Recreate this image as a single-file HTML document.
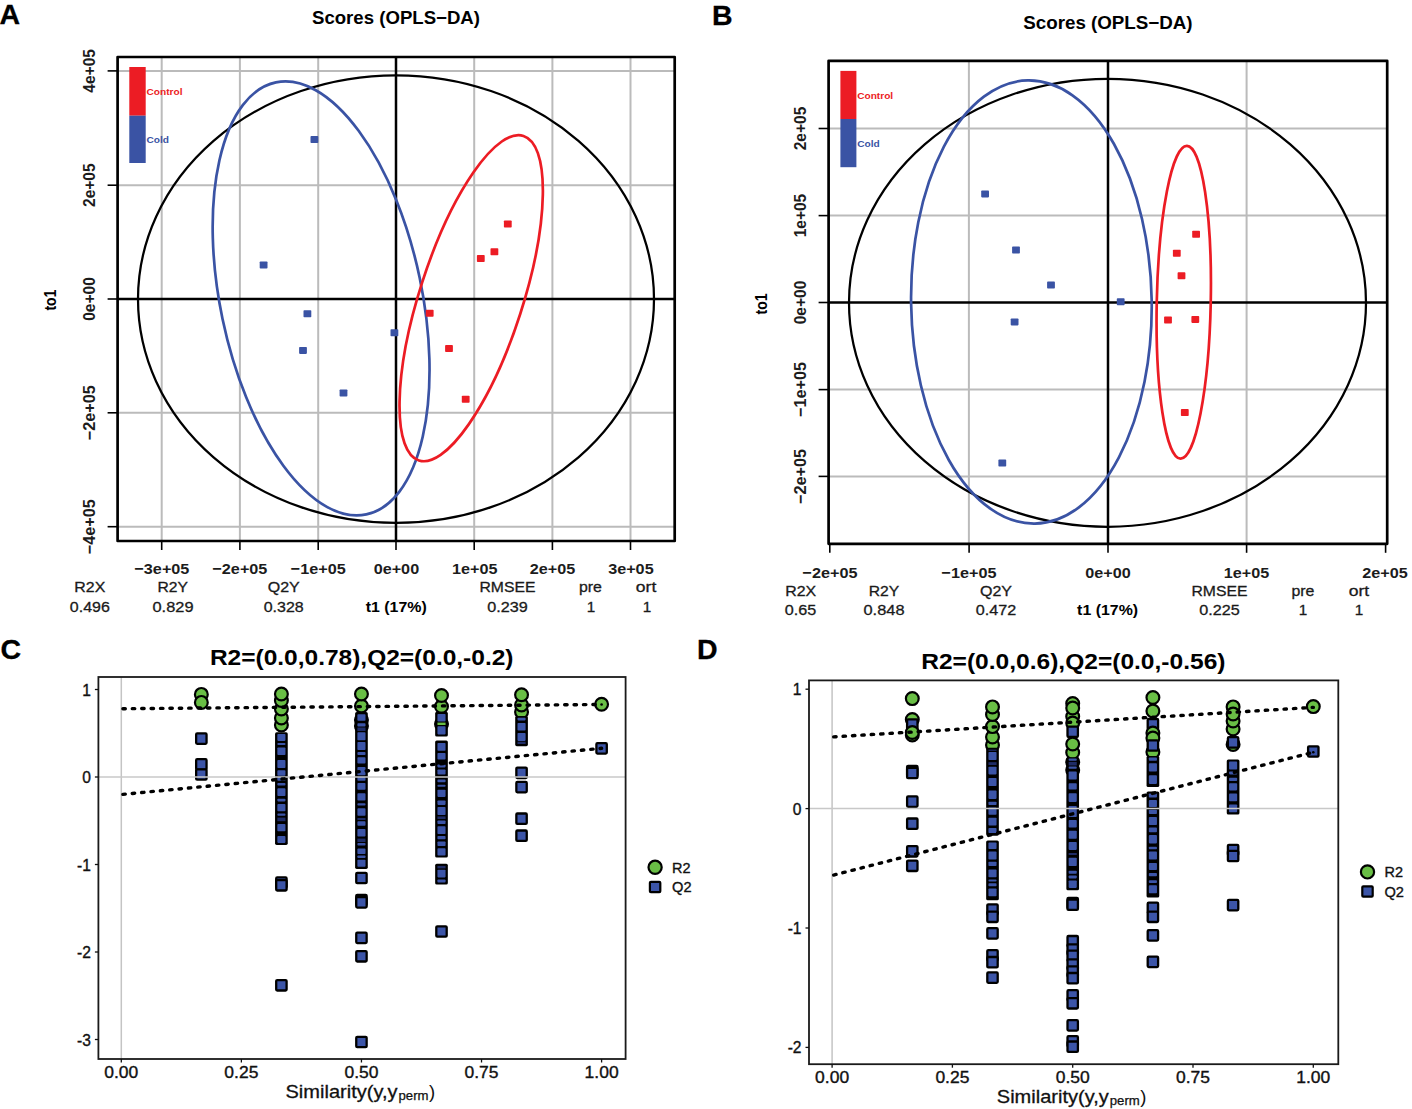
<!DOCTYPE html>
<html><head><meta charset="utf-8"><style>html,body{margin:0;padding:0;background:#fff;width:1412px;height:1109px;overflow:hidden}svg{display:block}</style></head><body>
<svg width="1412" height="1109" viewBox="0 0 1412 1109" font-family='"Liberation Sans", sans-serif'>
<rect x="0" y="0" width="1412" height="1109" fill="#fff"/>
<text x="-0.5" y="23.91" font-size="28.5" font-weight="bold" fill="#000" stroke="#000" stroke-width="0.3">A</text>
<text x="712" y="25.11" font-size="28.5" font-weight="bold" fill="#000" stroke="#000" stroke-width="0.3">B</text>
<text x="0.5" y="659.21" font-size="28.5" font-weight="bold" fill="#000" stroke="#000" stroke-width="0.3">C</text>
<text x="697" y="659.21" font-size="28.5" font-weight="bold" fill="#000" stroke="#000" stroke-width="0.3">D</text>
<line x1="161.70" y1="57.00" x2="161.70" y2="541.00" stroke="#BBBBBB" stroke-width="2.0"/>
<line x1="239.90" y1="57.00" x2="239.90" y2="541.00" stroke="#BBBBBB" stroke-width="2.0"/>
<line x1="318.20" y1="57.00" x2="318.20" y2="541.00" stroke="#BBBBBB" stroke-width="2.0"/>
<line x1="474.20" y1="57.00" x2="474.20" y2="541.00" stroke="#BBBBBB" stroke-width="2.0"/>
<line x1="552.40" y1="57.00" x2="552.40" y2="541.00" stroke="#BBBBBB" stroke-width="2.0"/>
<line x1="630.50" y1="57.00" x2="630.50" y2="541.00" stroke="#BBBBBB" stroke-width="2.0"/>
<line x1="117.60" y1="70.90" x2="674.70" y2="70.90" stroke="#BBBBBB" stroke-width="2.0"/>
<line x1="117.60" y1="185.20" x2="674.70" y2="185.20" stroke="#BBBBBB" stroke-width="2.0"/>
<line x1="117.60" y1="412.80" x2="674.70" y2="412.80" stroke="#BBBBBB" stroke-width="2.0"/>
<line x1="117.60" y1="526.70" x2="674.70" y2="526.70" stroke="#BBBBBB" stroke-width="2.0"/>
<line x1="396.00" y1="57.00" x2="396.00" y2="541.00" stroke="#000" stroke-width="2.5"/>
<line x1="117.60" y1="299.00" x2="674.70" y2="299.00" stroke="#000" stroke-width="2.5"/>
<ellipse cx="396.00" cy="299.10" rx="258.00" ry="223.80" transform="rotate(0 396.00 299.10)" fill="none" stroke="#000" stroke-width="2.25"/>
<ellipse cx="321.10" cy="298.40" rx="220.70" ry="100.70" transform="rotate(78.18 321.10 298.40)" fill="none" stroke="#3A53A4" stroke-width="2.7"/>
<ellipse cx="471.20" cy="298.20" rx="170.50" ry="51.50" transform="rotate(-72.14 471.20 298.20)" fill="none" stroke="#EC1C24" stroke-width="2.7"/>
<rect x="310.50" y="136.10" width="7.80" height="7.00" fill="#3A53A4" stroke="none" stroke-width="0" rx="0.8"/>
<rect x="259.70" y="261.50" width="7.80" height="7.00" fill="#3A53A4" stroke="none" stroke-width="0" rx="0.8"/>
<rect x="303.50" y="310.30" width="7.80" height="7.00" fill="#3A53A4" stroke="none" stroke-width="0" rx="0.8"/>
<rect x="299.10" y="346.90" width="7.80" height="7.00" fill="#3A53A4" stroke="none" stroke-width="0" rx="0.8"/>
<rect x="339.60" y="389.50" width="7.80" height="7.00" fill="#3A53A4" stroke="none" stroke-width="0" rx="0.8"/>
<rect x="390.50" y="329.30" width="7.80" height="7.00" fill="#3A53A4" stroke="none" stroke-width="0" rx="0.8"/>
<rect x="503.90" y="220.50" width="7.80" height="7.00" fill="#EC1C24" stroke="none" stroke-width="0" rx="0.8"/>
<rect x="490.50" y="248.20" width="7.80" height="7.00" fill="#EC1C24" stroke="none" stroke-width="0" rx="0.8"/>
<rect x="476.90" y="255.00" width="7.80" height="7.00" fill="#EC1C24" stroke="none" stroke-width="0" rx="0.8"/>
<rect x="425.80" y="309.70" width="7.80" height="7.00" fill="#EC1C24" stroke="none" stroke-width="0" rx="0.8"/>
<rect x="445.10" y="345.10" width="7.80" height="7.00" fill="#EC1C24" stroke="none" stroke-width="0" rx="0.8"/>
<rect x="461.80" y="395.80" width="7.80" height="7.00" fill="#EC1C24" stroke="none" stroke-width="0" rx="0.8"/>
<rect x="129.30" y="67.00" width="16.40" height="48.70" fill="#EC1C24" stroke="none" stroke-width="0"/>
<rect x="129.30" y="115.70" width="16.40" height="47.30" fill="#3A53A4" stroke="none" stroke-width="0"/>
<text x="146.50" y="94.92" font-size="9.5" font-weight="bold" text-anchor="start" fill="#EC1C24" textLength="36" lengthAdjust="spacingAndGlyphs">Control</text>
<text x="146.50" y="143.02" font-size="9.5" font-weight="bold" text-anchor="start" fill="#3A53A4" textLength="22.5" lengthAdjust="spacingAndGlyphs">Cold</text>
<rect x="117.60" y="57.00" width="557.10" height="484.00" fill="none" stroke="#000" stroke-width="2.7" stroke-linejoin="round"/>
<line x1="107.60" y1="70.90" x2="117.60" y2="70.90" stroke="#000" stroke-width="1.6"/>
<line x1="107.60" y1="185.20" x2="117.60" y2="185.20" stroke="#000" stroke-width="1.6"/>
<line x1="107.60" y1="299.00" x2="117.60" y2="299.00" stroke="#000" stroke-width="1.6"/>
<line x1="107.60" y1="412.80" x2="117.60" y2="412.80" stroke="#000" stroke-width="1.6"/>
<line x1="107.60" y1="526.70" x2="117.60" y2="526.70" stroke="#000" stroke-width="1.6"/>
<line x1="161.70" y1="541.00" x2="161.70" y2="550.00" stroke="#000" stroke-width="1.6"/>
<line x1="239.90" y1="541.00" x2="239.90" y2="550.00" stroke="#000" stroke-width="1.6"/>
<line x1="318.20" y1="541.00" x2="318.20" y2="550.00" stroke="#000" stroke-width="1.6"/>
<line x1="396.00" y1="541.00" x2="396.00" y2="550.00" stroke="#000" stroke-width="1.6"/>
<line x1="474.20" y1="541.00" x2="474.20" y2="550.00" stroke="#000" stroke-width="1.6"/>
<line x1="552.40" y1="541.00" x2="552.40" y2="550.00" stroke="#000" stroke-width="1.6"/>
<line x1="630.50" y1="541.00" x2="630.50" y2="550.00" stroke="#000" stroke-width="1.6"/>
<g transform="translate(89.30,70.90) scale(1.08,1) rotate(-90)"><text x="0" y="5.26" font-size="15.3" font-weight="bold" text-anchor="middle" fill="#1c1c1c" textLength="43.5" lengthAdjust="spacingAndGlyphs">4e+05</text></g>
<g transform="translate(89.30,185.20) scale(1.08,1) rotate(-90)"><text x="0" y="5.26" font-size="15.3" font-weight="bold" text-anchor="middle" fill="#1c1c1c" textLength="43.5" lengthAdjust="spacingAndGlyphs">2e+05</text></g>
<g transform="translate(89.30,299.00) scale(1.08,1) rotate(-90)"><text x="0" y="5.26" font-size="15.3" font-weight="bold" text-anchor="middle" fill="#1c1c1c" textLength="43.5" lengthAdjust="spacingAndGlyphs">0e+00</text></g>
<g transform="translate(89.30,412.80) scale(1.08,1) rotate(-90)"><text x="0" y="5.26" font-size="15.3" font-weight="bold" text-anchor="middle" fill="#1c1c1c" textLength="55" lengthAdjust="spacingAndGlyphs">−2e+05</text></g>
<g transform="translate(89.30,526.70) scale(1.08,1) rotate(-90)"><text x="0" y="5.26" font-size="15.3" font-weight="bold" text-anchor="middle" fill="#1c1c1c" textLength="55" lengthAdjust="spacingAndGlyphs">−4e+05</text></g>
<g transform="translate(50.50,300.10) scale(1.1,1) rotate(-90)"><text x="0" y="4.99" font-size="14.5" font-weight="bold" text-anchor="middle" fill="#000" textLength="21" lengthAdjust="spacingAndGlyphs">to1</text></g>
<text x="161.90" y="574.26" font-size="15.3" font-weight="bold" text-anchor="middle" fill="#1c1c1c" textLength="55" lengthAdjust="spacingAndGlyphs">−3e+05</text>
<text x="239.90" y="574.26" font-size="15.3" font-weight="bold" text-anchor="middle" fill="#1c1c1c" textLength="55" lengthAdjust="spacingAndGlyphs">−2e+05</text>
<text x="318.20" y="574.26" font-size="15.3" font-weight="bold" text-anchor="middle" fill="#1c1c1c" textLength="55" lengthAdjust="spacingAndGlyphs">−1e+05</text>
<text x="396.40" y="574.26" font-size="15.3" font-weight="bold" text-anchor="middle" fill="#1c1c1c" textLength="45.5" lengthAdjust="spacingAndGlyphs">0e+00</text>
<text x="474.80" y="574.26" font-size="15.3" font-weight="bold" text-anchor="middle" fill="#1c1c1c" textLength="45.5" lengthAdjust="spacingAndGlyphs">1e+05</text>
<text x="552.60" y="574.26" font-size="15.3" font-weight="bold" text-anchor="middle" fill="#1c1c1c" textLength="45.5" lengthAdjust="spacingAndGlyphs">2e+05</text>
<text x="630.90" y="574.26" font-size="15.3" font-weight="bold" text-anchor="middle" fill="#1c1c1c" textLength="45.5" lengthAdjust="spacingAndGlyphs">3e+05</text>
<text x="396.00" y="24.29" font-size="18" font-weight="bold" text-anchor="middle" fill="#000" textLength="168.0" lengthAdjust="spacingAndGlyphs">Scores (OPLS−DA)</text>
<text x="89.80" y="592.16" font-size="15.3" font-weight="normal" text-anchor="middle" fill="#1a1a1a" stroke="#1a1a1a" stroke-width="0.3" textLength="31" lengthAdjust="spacingAndGlyphs">R2X</text>
<text x="172.80" y="592.16" font-size="15.3" font-weight="normal" text-anchor="middle" fill="#1a1a1a" stroke="#1a1a1a" stroke-width="0.3" textLength="30.5" lengthAdjust="spacingAndGlyphs">R2Y</text>
<text x="283.70" y="592.16" font-size="15.3" font-weight="normal" text-anchor="middle" fill="#1a1a1a" stroke="#1a1a1a" stroke-width="0.3" textLength="32" lengthAdjust="spacingAndGlyphs">Q2Y</text>
<text x="507.50" y="592.16" font-size="15.3" font-weight="normal" text-anchor="middle" fill="#1a1a1a" stroke="#1a1a1a" stroke-width="0.3" textLength="56" lengthAdjust="spacingAndGlyphs">RMSEE</text>
<text x="590.40" y="592.16" font-size="15.3" font-weight="normal" text-anchor="middle" fill="#1a1a1a" stroke="#1a1a1a" stroke-width="0.3" textLength="23" lengthAdjust="spacingAndGlyphs">pre</text>
<text x="646.10" y="592.16" font-size="15.3" font-weight="normal" text-anchor="middle" fill="#1a1a1a" stroke="#1a1a1a" stroke-width="0.3" textLength="20.5" lengthAdjust="spacingAndGlyphs">ort</text>
<text x="89.80" y="611.86" font-size="15.3" font-weight="normal" text-anchor="middle" fill="#1a1a1a" stroke="#1a1a1a" stroke-width="0.3" textLength="40" lengthAdjust="spacingAndGlyphs">0.496</text>
<text x="173.00" y="611.86" font-size="15.3" font-weight="normal" text-anchor="middle" fill="#1a1a1a" stroke="#1a1a1a" stroke-width="0.3" textLength="41" lengthAdjust="spacingAndGlyphs">0.829</text>
<text x="283.70" y="611.86" font-size="15.3" font-weight="normal" text-anchor="middle" fill="#1a1a1a" stroke="#1a1a1a" stroke-width="0.3" textLength="40" lengthAdjust="spacingAndGlyphs">0.328</text>
<text x="396.20" y="611.66" font-size="15.3" font-weight="bold" text-anchor="middle" fill="#000" textLength="61" lengthAdjust="spacingAndGlyphs">t1 (17%)</text>
<text x="507.60" y="611.86" font-size="15.3" font-weight="normal" text-anchor="middle" fill="#1a1a1a" stroke="#1a1a1a" stroke-width="0.3" textLength="40.5" lengthAdjust="spacingAndGlyphs">0.239</text>
<text x="591.10" y="611.86" font-size="15.3" font-weight="normal" text-anchor="middle" fill="#1a1a1a" stroke="#1a1a1a" stroke-width="0.3" textLength="8.5" lengthAdjust="spacingAndGlyphs">1</text>
<text x="646.90" y="611.86" font-size="15.3" font-weight="normal" text-anchor="middle" fill="#1a1a1a" stroke="#1a1a1a" stroke-width="0.3" textLength="8.5" lengthAdjust="spacingAndGlyphs">1</text>
<line x1="968.90" y1="60.80" x2="968.90" y2="543.80" stroke="#BBBBBB" stroke-width="2.0"/>
<line x1="1246.60" y1="60.80" x2="1246.60" y2="543.80" stroke="#BBBBBB" stroke-width="2.0"/>
<line x1="828.60" y1="128.50" x2="1387.20" y2="128.50" stroke="#BBBBBB" stroke-width="2.0"/>
<line x1="828.60" y1="215.60" x2="1387.20" y2="215.60" stroke="#BBBBBB" stroke-width="2.0"/>
<line x1="828.60" y1="389.60" x2="1387.20" y2="389.60" stroke="#BBBBBB" stroke-width="2.0"/>
<line x1="828.60" y1="476.40" x2="1387.20" y2="476.40" stroke="#BBBBBB" stroke-width="2.0"/>
<line x1="1108.00" y1="60.80" x2="1108.00" y2="543.80" stroke="#000" stroke-width="2.5"/>
<line x1="828.60" y1="302.50" x2="1387.20" y2="302.50" stroke="#000" stroke-width="2.5"/>
<ellipse cx="1107.50" cy="302.75" rx="258.50" ry="224.00" transform="rotate(0 1107.50 302.75)" fill="none" stroke="#000" stroke-width="2.25"/>
<ellipse cx="1031.40" cy="302.00" rx="221.60" ry="120.30" transform="rotate(89.1 1031.40 302.00)" fill="none" stroke="#3A53A4" stroke-width="2.7"/>
<ellipse cx="1183.75" cy="302.25" rx="156.40" ry="27.00" transform="rotate(-88.83 1183.75 302.25)" fill="none" stroke="#EC1C24" stroke-width="2.7"/>
<rect x="981.20" y="190.40" width="7.80" height="7.00" fill="#3A53A4" stroke="none" stroke-width="0" rx="0.8"/>
<rect x="1012.10" y="246.50" width="7.80" height="7.00" fill="#3A53A4" stroke="none" stroke-width="0" rx="0.8"/>
<rect x="1047.10" y="281.60" width="7.80" height="7.00" fill="#3A53A4" stroke="none" stroke-width="0" rx="0.8"/>
<rect x="1010.70" y="318.40" width="7.80" height="7.00" fill="#3A53A4" stroke="none" stroke-width="0" rx="0.8"/>
<rect x="998.40" y="459.60" width="7.80" height="7.00" fill="#3A53A4" stroke="none" stroke-width="0" rx="0.8"/>
<rect x="1116.80" y="298.30" width="7.80" height="7.00" fill="#3A53A4" stroke="none" stroke-width="0" rx="0.8"/>
<rect x="1192.20" y="230.80" width="7.80" height="7.00" fill="#EC1C24" stroke="none" stroke-width="0" rx="0.8"/>
<rect x="1172.90" y="249.80" width="7.80" height="7.00" fill="#EC1C24" stroke="none" stroke-width="0" rx="0.8"/>
<rect x="1177.60" y="272.30" width="7.80" height="7.00" fill="#EC1C24" stroke="none" stroke-width="0" rx="0.8"/>
<rect x="1164.10" y="316.50" width="7.80" height="7.00" fill="#EC1C24" stroke="none" stroke-width="0" rx="0.8"/>
<rect x="1191.40" y="315.90" width="7.80" height="7.00" fill="#EC1C24" stroke="none" stroke-width="0" rx="0.8"/>
<rect x="1180.90" y="409.10" width="7.80" height="7.00" fill="#EC1C24" stroke="none" stroke-width="0" rx="0.8"/>
<rect x="840.40" y="70.90" width="16.00" height="48.10" fill="#EC1C24" stroke="none" stroke-width="0"/>
<rect x="840.40" y="119.00" width="16.00" height="48.20" fill="#3A53A4" stroke="none" stroke-width="0"/>
<text x="857.20" y="98.52" font-size="9.5" font-weight="bold" text-anchor="start" fill="#EC1C24" textLength="36" lengthAdjust="spacingAndGlyphs">Control</text>
<text x="857.20" y="146.77" font-size="9.5" font-weight="bold" text-anchor="start" fill="#3A53A4" textLength="22.5" lengthAdjust="spacingAndGlyphs">Cold</text>
<rect x="828.60" y="60.80" width="558.60" height="483.00" fill="none" stroke="#000" stroke-width="2.7" stroke-linejoin="round"/>
<line x1="818.60" y1="128.50" x2="828.60" y2="128.50" stroke="#000" stroke-width="1.6"/>
<line x1="818.60" y1="215.60" x2="828.60" y2="215.60" stroke="#000" stroke-width="1.6"/>
<line x1="818.60" y1="302.50" x2="828.60" y2="302.50" stroke="#000" stroke-width="1.6"/>
<line x1="818.60" y1="389.60" x2="828.60" y2="389.60" stroke="#000" stroke-width="1.6"/>
<line x1="818.60" y1="476.40" x2="828.60" y2="476.40" stroke="#000" stroke-width="1.6"/>
<line x1="829.80" y1="543.80" x2="829.80" y2="552.80" stroke="#000" stroke-width="1.6"/>
<line x1="969.10" y1="543.80" x2="969.10" y2="552.80" stroke="#000" stroke-width="1.6"/>
<line x1="1108.00" y1="543.80" x2="1108.00" y2="552.80" stroke="#000" stroke-width="1.6"/>
<line x1="1246.60" y1="543.80" x2="1246.60" y2="552.80" stroke="#000" stroke-width="1.6"/>
<line x1="1385.60" y1="543.80" x2="1385.60" y2="552.80" stroke="#000" stroke-width="1.6"/>
<g transform="translate(800.00,128.50) scale(1.08,1) rotate(-90)"><text x="0" y="5.26" font-size="15.3" font-weight="bold" text-anchor="middle" fill="#1c1c1c" textLength="43.5" lengthAdjust="spacingAndGlyphs">2e+05</text></g>
<g transform="translate(800.00,215.60) scale(1.08,1) rotate(-90)"><text x="0" y="5.26" font-size="15.3" font-weight="bold" text-anchor="middle" fill="#1c1c1c" textLength="43.5" lengthAdjust="spacingAndGlyphs">1e+05</text></g>
<g transform="translate(800.00,302.50) scale(1.08,1) rotate(-90)"><text x="0" y="5.26" font-size="15.3" font-weight="bold" text-anchor="middle" fill="#1c1c1c" textLength="43.5" lengthAdjust="spacingAndGlyphs">0e+00</text></g>
<g transform="translate(800.00,389.60) scale(1.08,1) rotate(-90)"><text x="0" y="5.26" font-size="15.3" font-weight="bold" text-anchor="middle" fill="#1c1c1c" textLength="55" lengthAdjust="spacingAndGlyphs">−1e+05</text></g>
<g transform="translate(800.00,476.40) scale(1.08,1) rotate(-90)"><text x="0" y="5.26" font-size="15.3" font-weight="bold" text-anchor="middle" fill="#1c1c1c" textLength="55" lengthAdjust="spacingAndGlyphs">−2e+05</text></g>
<g transform="translate(761.20,303.90) scale(1.1,1) rotate(-90)"><text x="0" y="4.99" font-size="14.5" font-weight="bold" text-anchor="middle" fill="#000" textLength="21" lengthAdjust="spacingAndGlyphs">to1</text></g>
<text x="830.00" y="577.76" font-size="15.3" font-weight="bold" text-anchor="middle" fill="#1c1c1c" textLength="55" lengthAdjust="spacingAndGlyphs">−2e+05</text>
<text x="969.10" y="577.76" font-size="15.3" font-weight="bold" text-anchor="middle" fill="#1c1c1c" textLength="55" lengthAdjust="spacingAndGlyphs">−1e+05</text>
<text x="1108.00" y="577.76" font-size="15.3" font-weight="bold" text-anchor="middle" fill="#1c1c1c" textLength="45.5" lengthAdjust="spacingAndGlyphs">0e+00</text>
<text x="1246.50" y="577.76" font-size="15.3" font-weight="bold" text-anchor="middle" fill="#1c1c1c" textLength="45.5" lengthAdjust="spacingAndGlyphs">1e+05</text>
<text x="1385.00" y="577.76" font-size="15.3" font-weight="bold" text-anchor="middle" fill="#1c1c1c" textLength="45.5" lengthAdjust="spacingAndGlyphs">2e+05</text>
<text x="1107.95" y="29.09" font-size="18" font-weight="bold" text-anchor="middle" fill="#000" textLength="169.29999999999995" lengthAdjust="spacingAndGlyphs">Scores (OPLS−DA)</text>
<text x="800.70" y="595.96" font-size="15.3" font-weight="normal" text-anchor="middle" fill="#1a1a1a" stroke="#1a1a1a" stroke-width="0.3" textLength="31" lengthAdjust="spacingAndGlyphs">R2X</text>
<text x="884.00" y="595.96" font-size="15.3" font-weight="normal" text-anchor="middle" fill="#1a1a1a" stroke="#1a1a1a" stroke-width="0.3" textLength="30.5" lengthAdjust="spacingAndGlyphs">R2Y</text>
<text x="996.00" y="595.96" font-size="15.3" font-weight="normal" text-anchor="middle" fill="#1a1a1a" stroke="#1a1a1a" stroke-width="0.3" textLength="32" lengthAdjust="spacingAndGlyphs">Q2Y</text>
<text x="1219.50" y="595.96" font-size="15.3" font-weight="normal" text-anchor="middle" fill="#1a1a1a" stroke="#1a1a1a" stroke-width="0.3" textLength="56" lengthAdjust="spacingAndGlyphs">RMSEE</text>
<text x="1302.90" y="595.96" font-size="15.3" font-weight="normal" text-anchor="middle" fill="#1a1a1a" stroke="#1a1a1a" stroke-width="0.3" textLength="23" lengthAdjust="spacingAndGlyphs">pre</text>
<text x="1359.00" y="595.96" font-size="15.3" font-weight="normal" text-anchor="middle" fill="#1a1a1a" stroke="#1a1a1a" stroke-width="0.3" textLength="20.5" lengthAdjust="spacingAndGlyphs">ort</text>
<text x="800.50" y="615.36" font-size="15.3" font-weight="normal" text-anchor="middle" fill="#1a1a1a" stroke="#1a1a1a" stroke-width="0.3" textLength="31.5" lengthAdjust="spacingAndGlyphs">0.65</text>
<text x="884.00" y="615.36" font-size="15.3" font-weight="normal" text-anchor="middle" fill="#1a1a1a" stroke="#1a1a1a" stroke-width="0.3" textLength="41" lengthAdjust="spacingAndGlyphs">0.848</text>
<text x="996.00" y="615.36" font-size="15.3" font-weight="normal" text-anchor="middle" fill="#1a1a1a" stroke="#1a1a1a" stroke-width="0.3" textLength="40.5" lengthAdjust="spacingAndGlyphs">0.472</text>
<text x="1107.60" y="615.26" font-size="15.3" font-weight="bold" text-anchor="middle" fill="#000" textLength="61" lengthAdjust="spacingAndGlyphs">t1 (17%)</text>
<text x="1219.50" y="615.36" font-size="15.3" font-weight="normal" text-anchor="middle" fill="#1a1a1a" stroke="#1a1a1a" stroke-width="0.3" textLength="40.5" lengthAdjust="spacingAndGlyphs">0.225</text>
<text x="1302.90" y="615.36" font-size="15.3" font-weight="normal" text-anchor="middle" fill="#1a1a1a" stroke="#1a1a1a" stroke-width="0.3" textLength="8.5" lengthAdjust="spacingAndGlyphs">1</text>
<text x="1359.00" y="615.36" font-size="15.3" font-weight="normal" text-anchor="middle" fill="#1a1a1a" stroke="#1a1a1a" stroke-width="0.3" textLength="8.5" lengthAdjust="spacingAndGlyphs">1</text>
<line x1="121.30" y1="677.00" x2="121.30" y2="1059.00" stroke="#C4C4C4" stroke-width="1.5"/>
<circle cx="201.35" cy="694.40" r="6.4" fill="#69BE45" stroke="#000" stroke-width="2.2"/>
<circle cx="201.35" cy="702.40" r="6.4" fill="#69BE45" stroke="#000" stroke-width="2.2"/>
<rect x="196.15" y="733.40" width="10.40" height="10.40" fill="#3C55A8" stroke="#000" stroke-width="2.3" rx="1"/>
<rect x="196.15" y="759.20" width="10.40" height="10.40" fill="#3C55A8" stroke="#000" stroke-width="2.3" rx="1"/>
<rect x="196.15" y="769.30" width="10.40" height="10.40" fill="#3C55A8" stroke="#000" stroke-width="2.3" rx="1"/>
<circle cx="281.40" cy="725.00" r="6.4" fill="#69BE45" stroke="#000" stroke-width="2.2"/>
<circle cx="281.40" cy="718.00" r="6.4" fill="#69BE45" stroke="#000" stroke-width="2.2"/>
<circle cx="281.40" cy="709.00" r="6.4" fill="#69BE45" stroke="#000" stroke-width="2.2"/>
<circle cx="281.40" cy="700.50" r="6.4" fill="#69BE45" stroke="#000" stroke-width="2.2"/>
<circle cx="281.40" cy="694.00" r="6.4" fill="#69BE45" stroke="#000" stroke-width="2.2"/>
<rect x="275.05" y="732.30" width="12.70" height="112.60" fill="#000" stroke="none" stroke-width="0" rx="1.6"/>
<rect x="277.35" y="733.90" width="8.10" height="7.00" fill="#3C55A8" stroke="none" stroke-width="0" rx="0.8"/>
<rect x="277.35" y="743.00" width="8.10" height="2.00" fill="#3C55A8" stroke="none" stroke-width="0" rx="0.8"/>
<rect x="277.35" y="747.40" width="8.10" height="7.60" fill="#3C55A8" stroke="none" stroke-width="0" rx="0.8"/>
<rect x="277.35" y="759.90" width="8.10" height="8.10" fill="#3C55A8" stroke="none" stroke-width="0" rx="0.8"/>
<rect x="277.35" y="770.30" width="8.10" height="5.40" fill="#3C55A8" stroke="none" stroke-width="0" rx="0.8"/>
<rect x="277.35" y="777.00" width="8.10" height="3.70" fill="#3C55A8" stroke="none" stroke-width="0" rx="0.8"/>
<rect x="277.35" y="783.00" width="8.10" height="2.60" fill="#3C55A8" stroke="none" stroke-width="0" rx="0.8"/>
<rect x="277.35" y="788.30" width="8.10" height="7.70" fill="#3C55A8" stroke="none" stroke-width="0" rx="0.8"/>
<rect x="277.35" y="798.70" width="8.10" height="2.70" fill="#3C55A8" stroke="none" stroke-width="0" rx="0.8"/>
<rect x="277.35" y="804.10" width="8.10" height="7.20" fill="#3C55A8" stroke="none" stroke-width="0" rx="0.8"/>
<rect x="277.35" y="813.60" width="8.10" height="2.20" fill="#3C55A8" stroke="none" stroke-width="0" rx="0.8"/>
<rect x="277.35" y="824.00" width="8.10" height="7.20" fill="#3C55A8" stroke="none" stroke-width="0" rx="0.8"/>
<rect x="277.35" y="836.10" width="8.10" height="6.80" fill="#3C55A8" stroke="none" stroke-width="0" rx="0.8"/>
<rect x="277.35" y="817.60" width="8.10" height="3.60" fill="#1F2C66" stroke="none" stroke-width="0"/>
<rect x="276.20" y="877.40" width="10.40" height="10.40" fill="#3C55A8" stroke="#000" stroke-width="2.3" rx="1"/>
<rect x="276.20" y="880.10" width="10.40" height="10.40" fill="#3C55A8" stroke="#000" stroke-width="2.3" rx="1"/>
<rect x="276.20" y="980.10" width="10.40" height="10.40" fill="#3C55A8" stroke="#000" stroke-width="2.3" rx="1"/>
<circle cx="361.45" cy="726.00" r="6.4" fill="#69BE45" stroke="#000" stroke-width="2.2"/>
<circle cx="361.45" cy="720.00" r="6.4" fill="#69BE45" stroke="#000" stroke-width="2.2"/>
<circle cx="361.45" cy="706.00" r="6.4" fill="#69BE45" stroke="#000" stroke-width="2.2"/>
<circle cx="361.45" cy="694.00" r="6.4" fill="#69BE45" stroke="#000" stroke-width="2.2"/>
<rect x="355.10" y="712.10" width="12.70" height="156.80" fill="#000" stroke="none" stroke-width="0" rx="1.6"/>
<rect x="357.40" y="714.20" width="8.10" height="6.60" fill="#3C55A8" stroke="none" stroke-width="0" rx="0.8"/>
<rect x="357.40" y="723.30" width="8.10" height="3.20" fill="#3C55A8" stroke="none" stroke-width="0" rx="0.8"/>
<rect x="357.40" y="732.30" width="8.10" height="7.90" fill="#3C55A8" stroke="none" stroke-width="0" rx="0.8"/>
<rect x="357.40" y="742.00" width="8.10" height="8.00" fill="#3C55A8" stroke="none" stroke-width="0" rx="0.8"/>
<rect x="357.40" y="752.10" width="8.10" height="2.90" fill="#3C55A8" stroke="none" stroke-width="0" rx="0.8"/>
<rect x="357.40" y="757.20" width="8.10" height="6.30" fill="#3C55A8" stroke="none" stroke-width="0" rx="0.8"/>
<rect x="357.40" y="767.00" width="8.10" height="8.20" fill="#3C55A8" stroke="none" stroke-width="0" rx="0.8"/>
<rect x="357.40" y="777.00" width="8.10" height="3.70" fill="#3C55A8" stroke="none" stroke-width="0" rx="0.8"/>
<rect x="357.40" y="782.90" width="8.10" height="6.80" fill="#3C55A8" stroke="none" stroke-width="0" rx="0.8"/>
<rect x="357.40" y="793.30" width="8.10" height="7.20" fill="#3C55A8" stroke="none" stroke-width="0" rx="0.8"/>
<rect x="357.40" y="803.20" width="8.10" height="2.30" fill="#3C55A8" stroke="none" stroke-width="0" rx="0.8"/>
<rect x="357.40" y="808.20" width="8.10" height="7.60" fill="#3C55A8" stroke="none" stroke-width="0" rx="0.8"/>
<rect x="357.40" y="821.20" width="8.10" height="4.50" fill="#3C55A8" stroke="none" stroke-width="0" rx="0.8"/>
<rect x="357.40" y="828.90" width="8.10" height="7.70" fill="#3C55A8" stroke="none" stroke-width="0" rx="0.8"/>
<rect x="357.40" y="842.90" width="8.10" height="2.70" fill="#3C55A8" stroke="none" stroke-width="0" rx="0.8"/>
<rect x="357.40" y="848.60" width="8.10" height="5.40" fill="#3C55A8" stroke="none" stroke-width="0" rx="0.8"/>
<rect x="357.40" y="855.50" width="8.10" height="2.50" fill="#3C55A8" stroke="none" stroke-width="0" rx="0.8"/>
<rect x="357.40" y="859.80" width="8.10" height="7.00" fill="#3C55A8" stroke="none" stroke-width="0" rx="0.8"/>
<rect x="357.40" y="727.50" width="8.10" height="3.50" fill="#1F2C66" stroke="none" stroke-width="0"/>
<rect x="357.40" y="838.60" width="8.10" height="3.40" fill="#1F2C66" stroke="none" stroke-width="0"/>
<rect x="357.40" y="818.00" width="8.10" height="2.00" fill="#1F2C66" stroke="none" stroke-width="0"/>
<rect x="356.25" y="872.80" width="10.40" height="10.40" fill="#3C55A8" stroke="#000" stroke-width="2.3" rx="1"/>
<rect x="356.25" y="894.80" width="10.40" height="10.40" fill="#3C55A8" stroke="#000" stroke-width="2.3" rx="1"/>
<rect x="356.25" y="897.20" width="10.40" height="10.40" fill="#3C55A8" stroke="#000" stroke-width="2.3" rx="1"/>
<rect x="356.25" y="932.70" width="10.40" height="10.40" fill="#3C55A8" stroke="#000" stroke-width="2.3" rx="1"/>
<rect x="356.25" y="951.10" width="10.40" height="10.40" fill="#3C55A8" stroke="#000" stroke-width="2.3" rx="1"/>
<rect x="356.25" y="1036.80" width="10.40" height="10.40" fill="#3C55A8" stroke="#000" stroke-width="2.3" rx="1"/>
<circle cx="441.50" cy="724.00" r="6.4" fill="#69BE45" stroke="#000" stroke-width="2.2"/>
<circle cx="441.50" cy="706.50" r="6.4" fill="#69BE45" stroke="#000" stroke-width="2.2"/>
<circle cx="441.50" cy="695.50" r="6.4" fill="#69BE45" stroke="#000" stroke-width="2.2"/>
<rect x="435.15" y="711.80" width="12.70" height="24.80" fill="#000" stroke="none" stroke-width="0" rx="1.6"/>
<rect x="437.45" y="713.90" width="8.10" height="7.60" fill="#3C55A8" stroke="none" stroke-width="0" rx="0.8"/>
<rect x="437.45" y="726.20" width="8.10" height="8.20" fill="#3C55A8" stroke="none" stroke-width="0" rx="0.8"/>
<rect x="437.45" y="722.60" width="8.10" height="2.40" fill="#69BE45" stroke="none" stroke-width="0"/>
<rect x="435.15" y="740.40" width="12.70" height="117.20" fill="#000" stroke="none" stroke-width="0" rx="1.6"/>
<rect x="437.45" y="742.90" width="8.10" height="7.90" fill="#3C55A8" stroke="none" stroke-width="0" rx="0.8"/>
<rect x="437.45" y="753.00" width="8.10" height="6.50" fill="#3C55A8" stroke="none" stroke-width="0" rx="0.8"/>
<rect x="437.45" y="764.50" width="8.10" height="2.90" fill="#3C55A8" stroke="none" stroke-width="0" rx="0.8"/>
<rect x="437.45" y="769.50" width="8.10" height="5.10" fill="#3C55A8" stroke="none" stroke-width="0" rx="0.8"/>
<rect x="437.45" y="779.60" width="8.10" height="2.60" fill="#3C55A8" stroke="none" stroke-width="0" rx="0.8"/>
<rect x="437.45" y="784.70" width="8.10" height="2.10" fill="#3C55A8" stroke="none" stroke-width="0" rx="0.8"/>
<rect x="437.45" y="789.70" width="8.10" height="7.20" fill="#3C55A8" stroke="none" stroke-width="0" rx="0.8"/>
<rect x="437.45" y="800.50" width="8.10" height="4.40" fill="#3C55A8" stroke="none" stroke-width="0" rx="0.8"/>
<rect x="437.45" y="807.00" width="8.10" height="8.00" fill="#3C55A8" stroke="none" stroke-width="0" rx="0.8"/>
<rect x="437.45" y="820.50" width="8.10" height="3.50" fill="#3C55A8" stroke="none" stroke-width="0" rx="0.8"/>
<rect x="437.45" y="826.20" width="8.10" height="7.90" fill="#3C55A8" stroke="none" stroke-width="0" rx="0.8"/>
<rect x="437.45" y="836.00" width="8.10" height="3.20" fill="#3C55A8" stroke="none" stroke-width="0" rx="0.8"/>
<rect x="437.45" y="841.40" width="8.10" height="4.60" fill="#3C55A8" stroke="none" stroke-width="0" rx="0.8"/>
<rect x="437.45" y="848.20" width="8.10" height="7.30" fill="#3C55A8" stroke="none" stroke-width="0" rx="0.8"/>
<rect x="437.45" y="816.40" width="8.10" height="2.60" fill="#1F2C66" stroke="none" stroke-width="0"/>
<rect x="435.15" y="863.70" width="12.70" height="20.90" fill="#000" stroke="none" stroke-width="0" rx="1.6"/>
<rect x="437.45" y="869.80" width="8.10" height="7.60" fill="#3C55A8" stroke="none" stroke-width="0" rx="0.8"/>
<rect x="437.45" y="879.50" width="8.10" height="3.00" fill="#3C55A8" stroke="none" stroke-width="0" rx="0.8"/>
<rect x="437.45" y="865.90" width="8.10" height="2.50" fill="#1F2C66" stroke="none" stroke-width="0"/>
<rect x="436.30" y="926.30" width="10.40" height="10.40" fill="#3C55A8" stroke="#000" stroke-width="2.3" rx="1"/>
<circle cx="521.55" cy="712.00" r="6.4" fill="#69BE45" stroke="#000" stroke-width="2.2"/>
<circle cx="521.55" cy="705.00" r="6.4" fill="#69BE45" stroke="#000" stroke-width="2.2"/>
<circle cx="521.55" cy="694.70" r="6.4" fill="#69BE45" stroke="#000" stroke-width="2.2"/>
<rect x="515.20" y="716.00" width="12.70" height="30.20" fill="#000" stroke="none" stroke-width="0" rx="1.6"/>
<rect x="517.50" y="717.80" width="8.10" height="2.60" fill="#3C55A8" stroke="none" stroke-width="0" rx="0.8"/>
<rect x="517.50" y="722.90" width="8.10" height="7.60" fill="#3C55A8" stroke="none" stroke-width="0" rx="0.8"/>
<rect x="517.50" y="733.00" width="8.10" height="7.90" fill="#3C55A8" stroke="none" stroke-width="0" rx="0.8"/>
<rect x="517.50" y="741.70" width="8.10" height="2.30" fill="#1F2C66" stroke="none" stroke-width="0"/>
<rect x="516.35" y="767.60" width="10.40" height="10.40" fill="#3C55A8" stroke="#000" stroke-width="2.3" rx="1"/>
<rect x="516.35" y="781.90" width="10.40" height="10.40" fill="#3C55A8" stroke="#000" stroke-width="2.3" rx="1"/>
<rect x="516.35" y="813.50" width="10.40" height="10.40" fill="#3C55A8" stroke="#000" stroke-width="2.3" rx="1"/>
<rect x="516.35" y="830.50" width="10.40" height="10.40" fill="#3C55A8" stroke="#000" stroke-width="2.3" rx="1"/>
<circle cx="601.60" cy="704.20" r="6.4" fill="#69BE45" stroke="#000" stroke-width="2.2"/>
<rect x="596.40" y="743.20" width="10.40" height="10.40" fill="#3C55A8" stroke="#000" stroke-width="2.3" rx="1"/>
<line x1="98.40" y1="777.00" x2="625.60" y2="777.00" stroke="#C8C8C8" stroke-width="1.5"/>
<line x1="122.90" y1="708.74" x2="601.60" y2="704.46" stroke="#000" stroke-width="3.4" stroke-dasharray="2.4 7.0" stroke-linecap="round"/>
<line x1="122.90" y1="794.35" x2="601.60" y2="748.30" stroke="#000" stroke-width="3.4" stroke-dasharray="2.4 7.0" stroke-linecap="round"/>
<circle cx="601.60" cy="704.46" r="1.3" fill="#000"/>
<circle cx="601.60" cy="748.30" r="1.3" fill="#000"/>
<rect x="98.40" y="677.00" width="527.20" height="382.00" fill="none" stroke="#1a1a1a" stroke-width="1.8"/>
<line x1="94.90" y1="689.50" x2="98.40" y2="689.50" stroke="#111" stroke-width="1.3"/>
<text x="90.90" y="695.57" font-size="15.6" font-weight="normal" text-anchor="end" fill="#111" stroke="#111" stroke-width="0.35">1</text>
<line x1="94.90" y1="777.00" x2="98.40" y2="777.00" stroke="#111" stroke-width="1.3"/>
<text x="90.90" y="783.07" font-size="15.6" font-weight="normal" text-anchor="end" fill="#111" stroke="#111" stroke-width="0.35">0</text>
<line x1="94.90" y1="864.50" x2="98.40" y2="864.50" stroke="#111" stroke-width="1.3"/>
<text x="90.90" y="870.57" font-size="15.6" font-weight="normal" text-anchor="end" fill="#111" stroke="#111" stroke-width="0.35">-1</text>
<line x1="94.90" y1="952.00" x2="98.40" y2="952.00" stroke="#111" stroke-width="1.3"/>
<text x="90.90" y="958.07" font-size="15.6" font-weight="normal" text-anchor="end" fill="#111" stroke="#111" stroke-width="0.35">-2</text>
<line x1="94.90" y1="1039.50" x2="98.40" y2="1039.50" stroke="#111" stroke-width="1.3"/>
<text x="90.90" y="1045.57" font-size="15.6" font-weight="normal" text-anchor="end" fill="#111" stroke="#111" stroke-width="0.35">-3</text>
<line x1="121.30" y1="1059.00" x2="121.30" y2="1062.50" stroke="#111" stroke-width="1.3"/>
<text x="121.30" y="1077.50" font-size="16.0" font-weight="normal" text-anchor="middle" fill="#111" stroke="#111" stroke-width="0.35" textLength="34" lengthAdjust="spacingAndGlyphs">0.00</text>
<line x1="241.38" y1="1059.00" x2="241.38" y2="1062.50" stroke="#111" stroke-width="1.3"/>
<text x="241.38" y="1077.50" font-size="16.0" font-weight="normal" text-anchor="middle" fill="#111" stroke="#111" stroke-width="0.35" textLength="34" lengthAdjust="spacingAndGlyphs">0.25</text>
<line x1="361.45" y1="1059.00" x2="361.45" y2="1062.50" stroke="#111" stroke-width="1.3"/>
<text x="361.45" y="1077.50" font-size="16.0" font-weight="normal" text-anchor="middle" fill="#111" stroke="#111" stroke-width="0.35" textLength="34" lengthAdjust="spacingAndGlyphs">0.50</text>
<line x1="481.53" y1="1059.00" x2="481.53" y2="1062.50" stroke="#111" stroke-width="1.3"/>
<text x="481.53" y="1077.50" font-size="16.0" font-weight="normal" text-anchor="middle" fill="#111" stroke="#111" stroke-width="0.35" textLength="34" lengthAdjust="spacingAndGlyphs">0.75</text>
<line x1="601.60" y1="1059.00" x2="601.60" y2="1062.50" stroke="#111" stroke-width="1.3"/>
<text x="601.60" y="1077.50" font-size="16.0" font-weight="normal" text-anchor="middle" fill="#111" stroke="#111" stroke-width="0.35" textLength="34" lengthAdjust="spacingAndGlyphs">1.00</text>
<text x="361.70" y="664.99" font-size="21.2" font-weight="bold" text-anchor="middle" fill="#000" textLength="303.6" lengthAdjust="spacingAndGlyphs">R2=(0.0,0.78),Q2=(0.0,-0.2)</text>
<text x="285.50" y="1097.80" font-size="18.5" fill="#111" stroke="#111" stroke-width="0.3" textLength="112" lengthAdjust="spacingAndGlyphs">Similarity(y,y</text>
<text x="398.50" y="1100.20" font-size="12.5" fill="#111" stroke="#111" stroke-width="0.25" textLength="30" lengthAdjust="spacingAndGlyphs">perm</text>
<text x="429.00" y="1097.80" font-size="18.5" fill="#111">)</text>
<circle cx="655.10" cy="867.30" r="6.6" fill="#69BE45" stroke="#000" stroke-width="2.2"/>
<rect x="649.90" y="881.80" width="10.40" height="10.40" fill="#3C55A8" stroke="#000" stroke-width="2.2" rx="1"/>
<text x="672.10" y="872.56" font-size="14.7" font-weight="normal" text-anchor="start" fill="#111" stroke="#111" stroke-width="0.35" textLength="18.5" lengthAdjust="spacingAndGlyphs">R2</text>
<text x="672.10" y="892.26" font-size="14.7" font-weight="normal" text-anchor="start" fill="#111" stroke="#111" stroke-width="0.35" textLength="19.5" lengthAdjust="spacingAndGlyphs">Q2</text>
<line x1="832.10" y1="680.40" x2="832.10" y2="1064.20" stroke="#C4C4C4" stroke-width="1.5"/>
<circle cx="912.30" cy="698.60" r="6.4" fill="#69BE45" stroke="#000" stroke-width="2.2"/>
<circle cx="912.30" cy="719.60" r="6.4" fill="#69BE45" stroke="#000" stroke-width="2.2"/>
<rect x="907.10" y="719.30" width="10.40" height="10.40" fill="#3C55A8" stroke="#000" stroke-width="2.3" rx="1"/>
<circle cx="912.30" cy="735.00" r="6.4" fill="#69BE45" stroke="#000" stroke-width="2.2"/>
<circle cx="912.30" cy="732.50" r="6.4" fill="#69BE45" stroke="#000" stroke-width="2.2"/>
<rect x="907.10" y="765.80" width="10.40" height="10.40" fill="#3C55A8" stroke="#000" stroke-width="2.3" rx="1"/>
<rect x="907.10" y="767.80" width="10.40" height="10.40" fill="#3C55A8" stroke="#000" stroke-width="2.3" rx="1"/>
<rect x="907.10" y="796.40" width="10.40" height="10.40" fill="#3C55A8" stroke="#000" stroke-width="2.3" rx="1"/>
<rect x="907.10" y="818.50" width="10.40" height="10.40" fill="#3C55A8" stroke="#000" stroke-width="2.3" rx="1"/>
<rect x="907.10" y="846.10" width="10.40" height="10.40" fill="#3C55A8" stroke="#000" stroke-width="2.3" rx="1"/>
<rect x="907.10" y="860.60" width="10.40" height="10.40" fill="#3C55A8" stroke="#000" stroke-width="2.3" rx="1"/>
<circle cx="992.50" cy="745.00" r="6.4" fill="#69BE45" stroke="#000" stroke-width="2.2"/>
<circle cx="992.50" cy="737.00" r="6.4" fill="#69BE45" stroke="#000" stroke-width="2.2"/>
<circle cx="992.50" cy="726.60" r="6.4" fill="#69BE45" stroke="#000" stroke-width="2.2"/>
<circle cx="992.50" cy="714.50" r="6.4" fill="#69BE45" stroke="#000" stroke-width="2.2"/>
<circle cx="992.50" cy="706.90" r="6.4" fill="#69BE45" stroke="#000" stroke-width="2.2"/>
<rect x="986.15" y="747.80" width="12.70" height="87.90" fill="#000" stroke="none" stroke-width="0" rx="1.6"/>
<rect x="988.45" y="752.00" width="8.10" height="8.00" fill="#3C55A8" stroke="none" stroke-width="0" rx="0.8"/>
<rect x="988.45" y="766.80" width="8.10" height="7.60" fill="#3C55A8" stroke="none" stroke-width="0" rx="0.8"/>
<rect x="988.45" y="778.00" width="8.10" height="8.00" fill="#3C55A8" stroke="none" stroke-width="0" rx="0.8"/>
<rect x="988.45" y="790.60" width="8.10" height="8.30" fill="#3C55A8" stroke="none" stroke-width="0" rx="0.8"/>
<rect x="988.45" y="801.80" width="8.10" height="3.20" fill="#3C55A8" stroke="none" stroke-width="0" rx="0.8"/>
<rect x="988.45" y="807.50" width="8.10" height="7.30" fill="#3C55A8" stroke="none" stroke-width="0" rx="0.8"/>
<rect x="988.45" y="817.70" width="8.10" height="7.90" fill="#3C55A8" stroke="none" stroke-width="0" rx="0.8"/>
<rect x="988.45" y="828.10" width="8.10" height="4.90" fill="#3C55A8" stroke="none" stroke-width="0" rx="0.8"/>
<rect x="988.45" y="749.60" width="8.10" height="1.20" fill="#1F2C66" stroke="none" stroke-width="0"/>
<rect x="988.45" y="762.20" width="8.10" height="2.80" fill="#1F2C66" stroke="none" stroke-width="0"/>
<rect x="986.15" y="840.50" width="12.70" height="59.80" fill="#000" stroke="none" stroke-width="0" rx="1.6"/>
<rect x="988.45" y="842.60" width="8.10" height="6.50" fill="#3C55A8" stroke="none" stroke-width="0" rx="0.8"/>
<rect x="988.45" y="851.60" width="8.10" height="7.90" fill="#3C55A8" stroke="none" stroke-width="0" rx="0.8"/>
<rect x="988.45" y="861.70" width="8.10" height="4.30" fill="#3C55A8" stroke="none" stroke-width="0" rx="0.8"/>
<rect x="988.45" y="869.60" width="8.10" height="7.60" fill="#3C55A8" stroke="none" stroke-width="0" rx="0.8"/>
<rect x="988.45" y="879.40" width="8.10" height="2.10" fill="#3C55A8" stroke="none" stroke-width="0" rx="0.8"/>
<rect x="988.45" y="883.30" width="8.10" height="2.90" fill="#3C55A8" stroke="none" stroke-width="0" rx="0.8"/>
<rect x="988.45" y="888.40" width="8.10" height="7.90" fill="#3C55A8" stroke="none" stroke-width="0" rx="0.8"/>
<rect x="987.30" y="904.30" width="10.40" height="10.40" fill="#3C55A8" stroke="#000" stroke-width="2.3" rx="1"/>
<rect x="987.30" y="911.60" width="10.40" height="10.40" fill="#3C55A8" stroke="#000" stroke-width="2.3" rx="1"/>
<rect x="987.30" y="928.20" width="10.40" height="10.40" fill="#3C55A8" stroke="#000" stroke-width="2.3" rx="1"/>
<rect x="987.30" y="950.10" width="10.40" height="10.40" fill="#3C55A8" stroke="#000" stroke-width="2.3" rx="1"/>
<rect x="987.30" y="957.00" width="10.40" height="10.40" fill="#3C55A8" stroke="#000" stroke-width="2.3" rx="1"/>
<rect x="987.30" y="972.40" width="10.40" height="10.40" fill="#3C55A8" stroke="#000" stroke-width="2.3" rx="1"/>
<circle cx="1072.70" cy="762.00" r="6.4" fill="#69BE45" stroke="#000" stroke-width="2.2"/>
<circle cx="1072.70" cy="770.00" r="6.4" fill="#69BE45" stroke="#000" stroke-width="2.2"/>
<circle cx="1072.70" cy="716.50" r="6.4" fill="#69BE45" stroke="#000" stroke-width="2.2"/>
<circle cx="1072.70" cy="723.00" r="6.4" fill="#69BE45" stroke="#000" stroke-width="2.2"/>
<circle cx="1072.70" cy="703.60" r="6.4" fill="#69BE45" stroke="#000" stroke-width="2.2"/>
<circle cx="1072.70" cy="708.00" r="6.4" fill="#69BE45" stroke="#000" stroke-width="2.2"/>
<rect x="1067.50" y="726.60" width="10.40" height="10.40" fill="#3C55A8" stroke="#000" stroke-width="2.3" rx="1"/>
<circle cx="1072.70" cy="752.50" r="6.4" fill="#69BE45" stroke="#000" stroke-width="2.2"/>
<circle cx="1072.70" cy="744.00" r="6.4" fill="#69BE45" stroke="#000" stroke-width="2.2"/>
<rect x="1066.35" y="757.20" width="12.70" height="133.10" fill="#000" stroke="none" stroke-width="0" rx="1.6"/>
<rect x="1068.65" y="758.50" width="8.10" height="2.30" fill="#3C55A8" stroke="none" stroke-width="0" rx="0.8"/>
<rect x="1068.65" y="766.60" width="8.10" height="2.10" fill="#3C55A8" stroke="none" stroke-width="0" rx="0.8"/>
<rect x="1068.65" y="771.60" width="8.10" height="7.90" fill="#3C55A8" stroke="none" stroke-width="0" rx="0.8"/>
<rect x="1068.65" y="783.20" width="8.10" height="6.40" fill="#3C55A8" stroke="none" stroke-width="0" rx="0.8"/>
<rect x="1068.65" y="793.20" width="8.10" height="8.70" fill="#3C55A8" stroke="none" stroke-width="0" rx="0.8"/>
<rect x="1068.65" y="806.00" width="8.10" height="11.00" fill="#3C55A8" stroke="none" stroke-width="0" rx="0.8"/>
<rect x="1068.65" y="819.90" width="8.10" height="7.70" fill="#3C55A8" stroke="none" stroke-width="0" rx="0.8"/>
<rect x="1068.65" y="830.80" width="8.10" height="7.90" fill="#3C55A8" stroke="none" stroke-width="0" rx="0.8"/>
<rect x="1068.65" y="842.00" width="8.10" height="7.90" fill="#3C55A8" stroke="none" stroke-width="0" rx="0.8"/>
<rect x="1068.65" y="857.80" width="8.10" height="8.30" fill="#3C55A8" stroke="none" stroke-width="0" rx="0.8"/>
<rect x="1068.65" y="870.80" width="8.10" height="2.90" fill="#3C55A8" stroke="none" stroke-width="0" rx="0.8"/>
<rect x="1068.65" y="875.50" width="8.10" height="2.90" fill="#3C55A8" stroke="none" stroke-width="0" rx="0.8"/>
<rect x="1068.65" y="880.50" width="8.10" height="7.40" fill="#3C55A8" stroke="none" stroke-width="0" rx="0.8"/>
<rect x="1068.65" y="761.90" width="8.10" height="3.60" fill="#1F2C66" stroke="none" stroke-width="0"/>
<rect x="1068.65" y="853.00" width="8.10" height="2.00" fill="#1F2C66" stroke="none" stroke-width="0"/>
<rect x="1067.50" y="898.00" width="10.40" height="10.40" fill="#3C55A8" stroke="#000" stroke-width="2.3" rx="1"/>
<rect x="1067.50" y="899.50" width="10.40" height="10.40" fill="#3C55A8" stroke="#000" stroke-width="2.3" rx="1"/>
<rect x="1067.50" y="936.00" width="10.40" height="10.40" fill="#3C55A8" stroke="#000" stroke-width="2.3" rx="1"/>
<rect x="1067.50" y="944.30" width="10.40" height="10.40" fill="#3C55A8" stroke="#000" stroke-width="2.3" rx="1"/>
<rect x="1067.50" y="950.60" width="10.40" height="10.40" fill="#3C55A8" stroke="#000" stroke-width="2.3" rx="1"/>
<rect x="1067.50" y="959.30" width="10.40" height="10.40" fill="#3C55A8" stroke="#000" stroke-width="2.3" rx="1"/>
<rect x="1067.50" y="966.30" width="10.40" height="10.40" fill="#3C55A8" stroke="#000" stroke-width="2.3" rx="1"/>
<rect x="1067.50" y="973.00" width="10.40" height="10.40" fill="#3C55A8" stroke="#000" stroke-width="2.3" rx="1"/>
<rect x="1067.50" y="990.20" width="10.40" height="10.40" fill="#3C55A8" stroke="#000" stroke-width="2.3" rx="1"/>
<rect x="1067.50" y="998.10" width="10.40" height="10.40" fill="#3C55A8" stroke="#000" stroke-width="2.3" rx="1"/>
<rect x="1067.50" y="1020.20" width="10.40" height="10.40" fill="#3C55A8" stroke="#000" stroke-width="2.3" rx="1"/>
<rect x="1067.50" y="1036.20" width="10.40" height="10.40" fill="#3C55A8" stroke="#000" stroke-width="2.3" rx="1"/>
<rect x="1067.50" y="1041.50" width="10.40" height="10.40" fill="#3C55A8" stroke="#000" stroke-width="2.3" rx="1"/>
<circle cx="1152.90" cy="711.00" r="6.4" fill="#69BE45" stroke="#000" stroke-width="2.2"/>
<circle cx="1152.90" cy="697.50" r="6.4" fill="#69BE45" stroke="#000" stroke-width="2.2"/>
<rect x="1147.70" y="719.00" width="10.40" height="10.40" fill="#3C55A8" stroke="#000" stroke-width="2.3" rx="1"/>
<circle cx="1152.90" cy="733.00" r="6.4" fill="#69BE45" stroke="#000" stroke-width="2.2"/>
<circle cx="1152.90" cy="738.00" r="6.4" fill="#69BE45" stroke="#000" stroke-width="2.2"/>
<circle cx="1152.90" cy="752.00" r="6.4" fill="#69BE45" stroke="#000" stroke-width="2.2"/>
<rect x="1147.70" y="740.30" width="10.40" height="10.40" fill="#3C55A8" stroke="#000" stroke-width="2.3" rx="1"/>
<rect x="1146.55" y="756.00" width="12.70" height="31.10" fill="#000" stroke="none" stroke-width="0" rx="1.6"/>
<rect x="1148.85" y="757.40" width="8.10" height="3.40" fill="#3C55A8" stroke="none" stroke-width="0" rx="0.8"/>
<rect x="1148.85" y="763.30" width="8.10" height="8.30" fill="#3C55A8" stroke="none" stroke-width="0" rx="0.8"/>
<rect x="1148.85" y="775.20" width="8.10" height="8.70" fill="#3C55A8" stroke="none" stroke-width="0" rx="0.8"/>
<rect x="1146.55" y="791.40" width="12.70" height="106.10" fill="#000" stroke="none" stroke-width="0" rx="1.6"/>
<rect x="1148.85" y="793.50" width="8.10" height="4.10" fill="#3C55A8" stroke="none" stroke-width="0" rx="0.8"/>
<rect x="1148.85" y="800.10" width="8.10" height="6.90" fill="#3C55A8" stroke="none" stroke-width="0" rx="0.8"/>
<rect x="1148.85" y="809.80" width="8.10" height="4.30" fill="#3C55A8" stroke="none" stroke-width="0" rx="0.8"/>
<rect x="1148.85" y="817.00" width="8.10" height="8.00" fill="#3C55A8" stroke="none" stroke-width="0" rx="0.8"/>
<rect x="1148.85" y="827.60" width="8.10" height="4.70" fill="#3C55A8" stroke="none" stroke-width="0" rx="0.8"/>
<rect x="1148.85" y="835.10" width="8.10" height="8.30" fill="#3C55A8" stroke="none" stroke-width="0" rx="0.8"/>
<rect x="1148.85" y="846.70" width="8.10" height="2.50" fill="#3C55A8" stroke="none" stroke-width="0" rx="0.8"/>
<rect x="1148.85" y="851.40" width="8.10" height="8.20" fill="#3C55A8" stroke="none" stroke-width="0" rx="0.8"/>
<rect x="1148.85" y="862.90" width="8.10" height="7.20" fill="#3C55A8" stroke="none" stroke-width="0" rx="0.8"/>
<rect x="1148.85" y="873.00" width="8.10" height="3.20" fill="#3C55A8" stroke="none" stroke-width="0" rx="0.8"/>
<rect x="1148.85" y="880.20" width="8.10" height="2.90" fill="#3C55A8" stroke="none" stroke-width="0" rx="0.8"/>
<rect x="1148.85" y="885.20" width="8.10" height="8.00" fill="#3C55A8" stroke="none" stroke-width="0" rx="0.8"/>
<rect x="1147.70" y="902.70" width="10.40" height="10.40" fill="#3C55A8" stroke="#000" stroke-width="2.3" rx="1"/>
<rect x="1147.70" y="911.60" width="10.40" height="10.40" fill="#3C55A8" stroke="#000" stroke-width="2.3" rx="1"/>
<rect x="1147.70" y="930.20" width="10.40" height="10.40" fill="#3C55A8" stroke="#000" stroke-width="2.3" rx="1"/>
<rect x="1147.70" y="956.70" width="10.40" height="10.40" fill="#3C55A8" stroke="#000" stroke-width="2.3" rx="1"/>
<circle cx="1233.10" cy="706.90" r="6.4" fill="#69BE45" stroke="#000" stroke-width="2.2"/>
<circle cx="1233.10" cy="729.00" r="6.4" fill="#69BE45" stroke="#000" stroke-width="2.2"/>
<circle cx="1233.10" cy="721.00" r="6.4" fill="#69BE45" stroke="#000" stroke-width="2.2"/>
<circle cx="1233.10" cy="714.00" r="6.4" fill="#69BE45" stroke="#000" stroke-width="2.2"/>
<circle cx="1233.10" cy="744.40" r="6.4" fill="#69BE45" stroke="#000" stroke-width="2.2"/>
<rect x="1227.90" y="737.20" width="10.40" height="10.40" fill="#3C55A8" stroke="#000" stroke-width="2.3" rx="1"/>
<rect x="1226.75" y="759.40" width="12.70" height="55.10" fill="#000" stroke="none" stroke-width="0" rx="1.6"/>
<rect x="1229.05" y="761.60" width="8.10" height="7.90" fill="#3C55A8" stroke="none" stroke-width="0" rx="0.8"/>
<rect x="1229.05" y="771.60" width="8.10" height="2.90" fill="#3C55A8" stroke="none" stroke-width="0" rx="0.8"/>
<rect x="1229.05" y="777.70" width="8.10" height="3.30" fill="#3C55A8" stroke="none" stroke-width="0" rx="0.8"/>
<rect x="1229.05" y="783.20" width="8.10" height="7.20" fill="#3C55A8" stroke="none" stroke-width="0" rx="0.8"/>
<rect x="1229.05" y="793.60" width="8.10" height="7.60" fill="#3C55A8" stroke="none" stroke-width="0" rx="0.8"/>
<rect x="1229.05" y="804.40" width="8.10" height="7.80" fill="#3C55A8" stroke="none" stroke-width="0" rx="0.8"/>
<rect x="1227.90" y="844.80" width="10.40" height="10.40" fill="#3C55A8" stroke="#000" stroke-width="2.3" rx="1"/>
<rect x="1227.90" y="850.80" width="10.40" height="10.40" fill="#3C55A8" stroke="#000" stroke-width="2.3" rx="1"/>
<rect x="1227.90" y="899.90" width="10.40" height="10.40" fill="#3C55A8" stroke="#000" stroke-width="2.3" rx="1"/>
<circle cx="1313.30" cy="706.60" r="6.4" fill="#69BE45" stroke="#000" stroke-width="2.2"/>
<rect x="1308.10" y="746.30" width="10.40" height="10.40" fill="#3C55A8" stroke="#000" stroke-width="2.3" rx="1"/>
<line x1="809.00" y1="808.60" x2="1338.30" y2="808.60" stroke="#C8C8C8" stroke-width="1.5"/>
<line x1="833.70" y1="736.86" x2="1313.30" y2="707.35" stroke="#000" stroke-width="3.4" stroke-dasharray="2.4 7.0" stroke-linecap="round"/>
<line x1="833.70" y1="875.05" x2="1313.30" y2="752.24" stroke="#000" stroke-width="3.4" stroke-dasharray="2.4 7.0" stroke-linecap="round"/>
<circle cx="1313.30" cy="707.35" r="1.3" fill="#000"/>
<circle cx="1313.30" cy="752.24" r="1.3" fill="#000"/>
<rect x="809.00" y="680.40" width="529.30" height="383.80" fill="none" stroke="#1a1a1a" stroke-width="1.8"/>
<line x1="805.50" y1="689.20" x2="809.00" y2="689.20" stroke="#111" stroke-width="1.3"/>
<text x="801.50" y="695.27" font-size="15.6" font-weight="normal" text-anchor="end" fill="#111" stroke="#111" stroke-width="0.35">1</text>
<line x1="805.50" y1="808.60" x2="809.00" y2="808.60" stroke="#111" stroke-width="1.3"/>
<text x="801.50" y="814.67" font-size="15.6" font-weight="normal" text-anchor="end" fill="#111" stroke="#111" stroke-width="0.35">0</text>
<line x1="805.50" y1="928.00" x2="809.00" y2="928.00" stroke="#111" stroke-width="1.3"/>
<text x="801.50" y="934.07" font-size="15.6" font-weight="normal" text-anchor="end" fill="#111" stroke="#111" stroke-width="0.35">-1</text>
<line x1="805.50" y1="1047.40" x2="809.00" y2="1047.40" stroke="#111" stroke-width="1.3"/>
<text x="801.50" y="1053.47" font-size="15.6" font-weight="normal" text-anchor="end" fill="#111" stroke="#111" stroke-width="0.35">-2</text>
<line x1="832.10" y1="1064.20" x2="832.10" y2="1067.70" stroke="#111" stroke-width="1.3"/>
<text x="832.10" y="1082.50" font-size="16.0" font-weight="normal" text-anchor="middle" fill="#111" stroke="#111" stroke-width="0.35" textLength="34" lengthAdjust="spacingAndGlyphs">0.00</text>
<line x1="952.40" y1="1064.20" x2="952.40" y2="1067.70" stroke="#111" stroke-width="1.3"/>
<text x="952.40" y="1082.50" font-size="16.0" font-weight="normal" text-anchor="middle" fill="#111" stroke="#111" stroke-width="0.35" textLength="34" lengthAdjust="spacingAndGlyphs">0.25</text>
<line x1="1072.70" y1="1064.20" x2="1072.70" y2="1067.70" stroke="#111" stroke-width="1.3"/>
<text x="1072.70" y="1082.50" font-size="16.0" font-weight="normal" text-anchor="middle" fill="#111" stroke="#111" stroke-width="0.35" textLength="34" lengthAdjust="spacingAndGlyphs">0.50</text>
<line x1="1193.00" y1="1064.20" x2="1193.00" y2="1067.70" stroke="#111" stroke-width="1.3"/>
<text x="1193.00" y="1082.50" font-size="16.0" font-weight="normal" text-anchor="middle" fill="#111" stroke="#111" stroke-width="0.35" textLength="34" lengthAdjust="spacingAndGlyphs">0.75</text>
<line x1="1313.30" y1="1064.20" x2="1313.30" y2="1067.70" stroke="#111" stroke-width="1.3"/>
<text x="1313.30" y="1082.50" font-size="16.0" font-weight="normal" text-anchor="middle" fill="#111" stroke="#111" stroke-width="0.35" textLength="34" lengthAdjust="spacingAndGlyphs">1.00</text>
<text x="1073.35" y="668.79" font-size="21.2" font-weight="bold" text-anchor="middle" fill="#000" textLength="304.29999999999995" lengthAdjust="spacingAndGlyphs">R2=(0.0,0.6),Q2=(0.0,-0.56)</text>
<text x="996.80" y="1102.50" font-size="18.5" fill="#111" stroke="#111" stroke-width="0.3" textLength="112" lengthAdjust="spacingAndGlyphs">Similarity(y,y</text>
<text x="1109.80" y="1104.90" font-size="12.5" fill="#111" stroke="#111" stroke-width="0.25" textLength="30" lengthAdjust="spacingAndGlyphs">perm</text>
<text x="1140.30" y="1102.50" font-size="18.5" fill="#111">)</text>
<circle cx="1367.50" cy="871.90" r="6.6" fill="#69BE45" stroke="#000" stroke-width="2.2"/>
<rect x="1362.30" y="886.30" width="10.40" height="10.40" fill="#3C55A8" stroke="#000" stroke-width="2.2" rx="1"/>
<text x="1384.50" y="877.16" font-size="14.7" font-weight="normal" text-anchor="start" fill="#111" stroke="#111" stroke-width="0.35" textLength="18.5" lengthAdjust="spacingAndGlyphs">R2</text>
<text x="1384.50" y="896.76" font-size="14.7" font-weight="normal" text-anchor="start" fill="#111" stroke="#111" stroke-width="0.35" textLength="19.5" lengthAdjust="spacingAndGlyphs">Q2</text>
</svg>
</body></html>
